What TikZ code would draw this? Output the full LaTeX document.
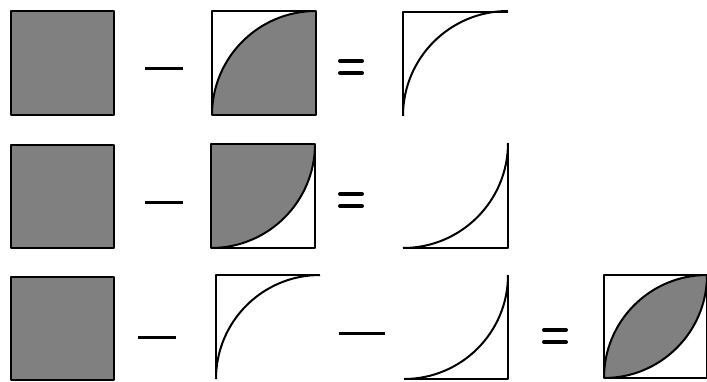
\documentclass[tikz,border=0pt]{standalone}
\begin{document}
\begin{tikzpicture}[x=1pt,y=-1pt,
  ln/.style={line width=2pt, line join=round},
  gfill/.style={fill=black!50},
  minusbar/.style={line width=3pt},
  eqbar/.style={line width=4pt, line cap=round}]
\useasboundingbox (0,0) rectangle (707,381);
% ---------- Row 1 ----------
\draw[ln,gfill] (11,11) rectangle (114,115);
\draw[minusbar] (145,68) -- (183,68);
\fill[gfill] (212,115) arc[start angle=180,end angle=270,radius=104] -- (316,115) -- cycle;
\draw[ln] (212,11) rectangle (316,115);
\draw[ln] (212,115) arc[start angle=180,end angle=270,radius=104];
\draw[eqbar] (340,61) -- (362,61);
\draw[eqbar] (340,73) -- (362,73);
\draw[ln] (508,12) -- (403,12) -- (403,116);
\draw[ln] (403,116) arc[start angle=180,end angle=270,radius=105];
% ---------- Row 2 ----------
\draw[ln,gfill] (11,145) rectangle (114,248);
\draw[minusbar] (145,202) -- (183,202);
\fill[gfill] (211,248) arc[start angle=90,end angle=0,radius=104] -- (211,144) -- cycle;
\draw[ln] (211,144) rectangle (315,248);
\draw[ln] (211,248) arc[start angle=90,end angle=0,radius=104];
\draw[eqbar] (340,194) -- (362,194);
\draw[eqbar] (340,206) -- (362,206);
\draw[ln] (403,248) -- (508,248) -- (508,143);
\draw[ln] (403,248) arc[start angle=90,end angle=0,radius=105];
% ---------- Row 3 ----------
\draw[ln,gfill] (11,277) rectangle (114,380);
\draw[minusbar] (138,337) -- (176,337);
\draw[ln] (320,275) -- (216,275) -- (216,379);
\draw[ln] (216,379) arc[start angle=180,end angle=270,radius=104];
\draw[minusbar] (339,333) -- (385,333);
\draw[ln] (404,379) -- (508,379) -- (508,275);
\draw[ln] (404,379) arc[start angle=90,end angle=0,radius=104];
\draw[eqbar] (544,330) -- (566,330);
\draw[eqbar] (544,342) -- (566,342);
\fill[gfill] (604,378) arc[start angle=180,end angle=270,radius=103]
  arc[start angle=0,end angle=90,radius=103] -- cycle;
\draw[ln] (604,275) rectangle (707,378);
\draw[ln] (604,378) arc[start angle=180,end angle=270,radius=103];
\draw[ln] (604,378) arc[start angle=90,end angle=0,radius=103];
\end{tikzpicture}
\end{document}
